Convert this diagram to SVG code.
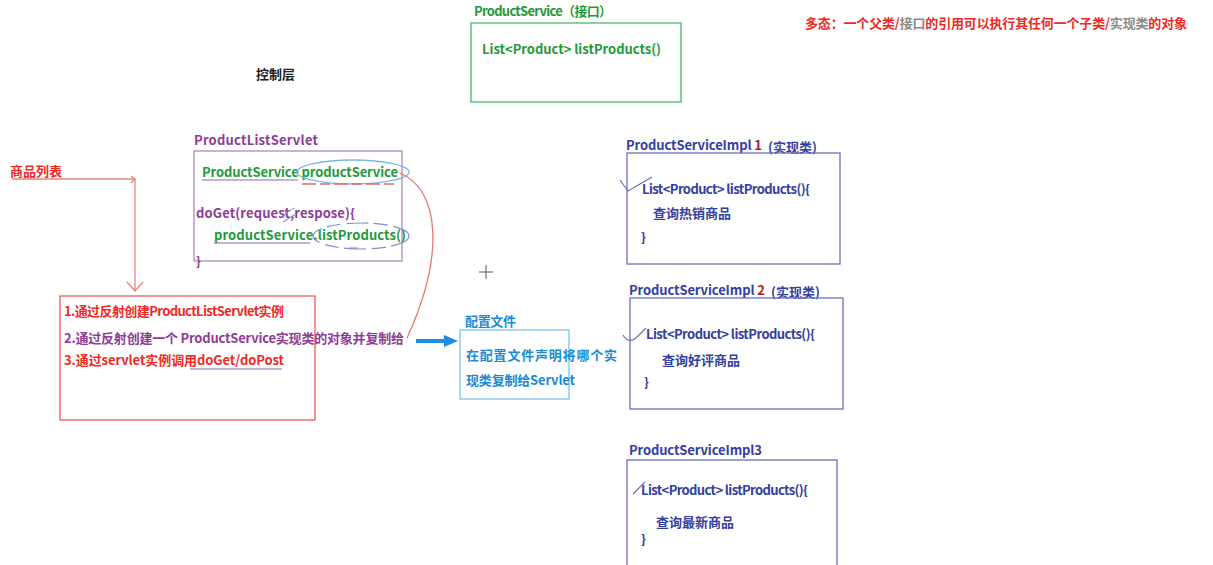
<svg xmlns="http://www.w3.org/2000/svg" width="1213" height="565" viewBox="0 0 1213 565">
<style>
text{font-family:"Noto Sans CJK SC","Liberation Sans",sans-serif;font-weight:bold;font-size:13px}
.g{fill:#1f9a3a}.p{fill:#8e3c96}.r{fill:#ee2a24}.b{fill:#3240a0}.c{fill:#1a8ad4}.gr{fill:#8a8a8a}.k{fill:#222}
.box{fill:none;stroke-width:1.3}
</style>
<rect width="1213" height="565" fill="#fff"/>
<text class="k" x="256" y="79" font-size="12">控制层</text>
<g id="annotation"><text x="805" y="28" font-size="12" textLength="382"><tspan class="r">多态：一个父类/</tspan><tspan class="gr">接口</tspan><tspan class="r">的引用可以执行其任何一个子类/</tspan><tspan class="gr">实现类</tspan><tspan class="r">的对象</tspan></text></g>
<g id="productService">
<text class="g" x="474" y="16" textLength="138">ProductService（接口）</text>
<rect class="box" x="471" y="23" width="210" height="79" stroke="#4cb86a"/>
<text class="g" x="482" y="54" textLength="179">List&lt;Product&gt; listProducts()</text>
</g>
<g id="productListServlet">
<text class="p" x="194" y="145" textLength="124">ProductListServlet</text>
<rect class="box" x="194" y="151" width="208" height="110" stroke="#b08ab8"/>
<text class="g" x="202" y="177" textLength="196">ProductService productService</text>
<text class="p" x="196" y="218" font-weight="normal" textLength="159">doGet(request,respose){</text>
<text class="g" x="214" y="240" textLength="192">productService.listProducts()</text>
<text class="p" x="196" y="266">}</text>
<line x1="202" y1="180" x2="298" y2="180" stroke="#8b6ab0" stroke-width="1.2"/>
<ellipse cx="353" cy="172" rx="56" ry="12" fill="none" stroke="#7ab8e0" stroke-width="1.3"/>
<line x1="302" y1="184" x2="395" y2="184" stroke="#e86a5a" stroke-width="1.3" stroke-dasharray="14 4 10 4"/>
<line x1="214" y1="243" x2="310" y2="243" stroke="#8b6ab0" stroke-width="1.2"/>
<ellipse cx="361" cy="236" rx="48" ry="13" fill="none" stroke="#8090d0" stroke-width="1.2" stroke-dasharray="22 5 14 6"/>
<line x1="349" y1="248" x2="358" y2="248" stroke="#8090d0" stroke-width="1.2"/>
<path d="M282 218 Q288 210 295 208 M283 222 L296 214" fill="none" stroke="#7a9ad8" stroke-width="1.1"/>
</g>
<g id="productList">
<text class="r" x="10" y="176" textLength="52">商品列表</text>
</g>
<g id="steps">
<rect class="box" x="60" y="296" width="255" height="124" stroke="#ee5a54"/>
<text class="r" x="64" y="316" textLength="220">1.通过反射创建ProductListServlet实例</text>
<text class="p" x="64" y="343" font-weight="normal" textLength="340">2.通过反射创建一个 ProductService实现类的对象并复制给</text>
<text class="r" x="64" y="365" textLength="220">3.通过servlet实例调用doGet/doPost</text>
<line x1="190" y1="369" x2="282" y2="369" stroke="#8b6ab0" stroke-width="1.2"/>
</g>
<g id="configFile">
<text class="c" x="465" y="326" textLength="51">配置文件</text>
<rect class="box" x="460" y="330" width="109" height="69" stroke="#7cc4ea"/>
<text class="c" x="466" y="360" textLength="151">在配置文件声明将哪个实</text>
<text class="c" x="466" y="385" textLength="109">现类复制给Servlet</text>
</g>
<g id="impl1">
<text class="b" x="626" y="150" textLength="136">ProductServiceImpl <tspan fill="#b01818">1</tspan></text>
<text class="b" x="768" y="152" font-size="12">(实现类)</text>
<rect class="box" x="627" y="153" width="213" height="111" stroke="#6a70bc"/>
<text class="b" x="642" y="194" textLength="168">List&lt;Product&gt; listProducts(){</text>
<text class="b" x="653" y="218" font-size="12.5">查询热销商品</text>
<text class="b" x="641" y="242">}</text>
<path d="M620 180 L628 191 L652 177" fill="none" stroke="#6a70bc" stroke-width="1.2"/>
</g>
<g id="impl2">
<text class="b" x="629" y="295" textLength="136">ProductServiceImpl <tspan fill="#b01818">2</tspan></text>
<text class="b" x="771" y="297" font-size="12">(实现类)</text>
<rect class="box" x="630" y="298" width="213" height="111" stroke="#6a70bc"/>
<text class="b" x="646" y="339" textLength="169">List&lt;Product&gt; listProducts(){</text>
<text class="b" x="662" y="365" font-size="12.5">查询好评商品</text>
<text class="b" x="644" y="387">}</text>
<path d="M623 335 Q628 344 636 338 Q641 333 646 328" fill="none" stroke="#6a70bc" stroke-width="1.2"/>
</g>
<g id="impl3">
<text class="b" x="629" y="455" textLength="133">ProductServiceImpl3</text>
<rect class="box" x="627" y="460" width="210" height="110" stroke="#6a70bc"/>
<text class="b" x="641" y="495" textLength="167">List&lt;Product&gt; listProducts(){</text>
<text class="b" x="656" y="527" font-size="12.5">查询最新商品</text>
<text class="b" x="641" y="544">}</text>
<path d="M633 494 L645 482" fill="none" stroke="#6a70bc" stroke-width="1.2"/>
</g>
<g id="connectors" fill="none">
<path d="M12 179 L135 179 M131 176 L135 179 L131 183" stroke="#f0807a" stroke-width="1.3"/>
<path d="M135 179 L135 291 M127 282 L135 291 L143 282" stroke="#f0807a" stroke-width="1.3"/>
<path d="M400 173 C440 190 445 255 407 338" stroke="#e8786e" stroke-width="1.3"/>
<line x1="416" y1="341" x2="446" y2="341" stroke="#1e8fe0" stroke-width="4"/>
<polygon points="444,335 458,341 444,347" fill="#1e8fe0"/>
</g>
<path d="M486 265 V279 M479 272 H493" stroke="#555" stroke-width="1"/>
</svg>
